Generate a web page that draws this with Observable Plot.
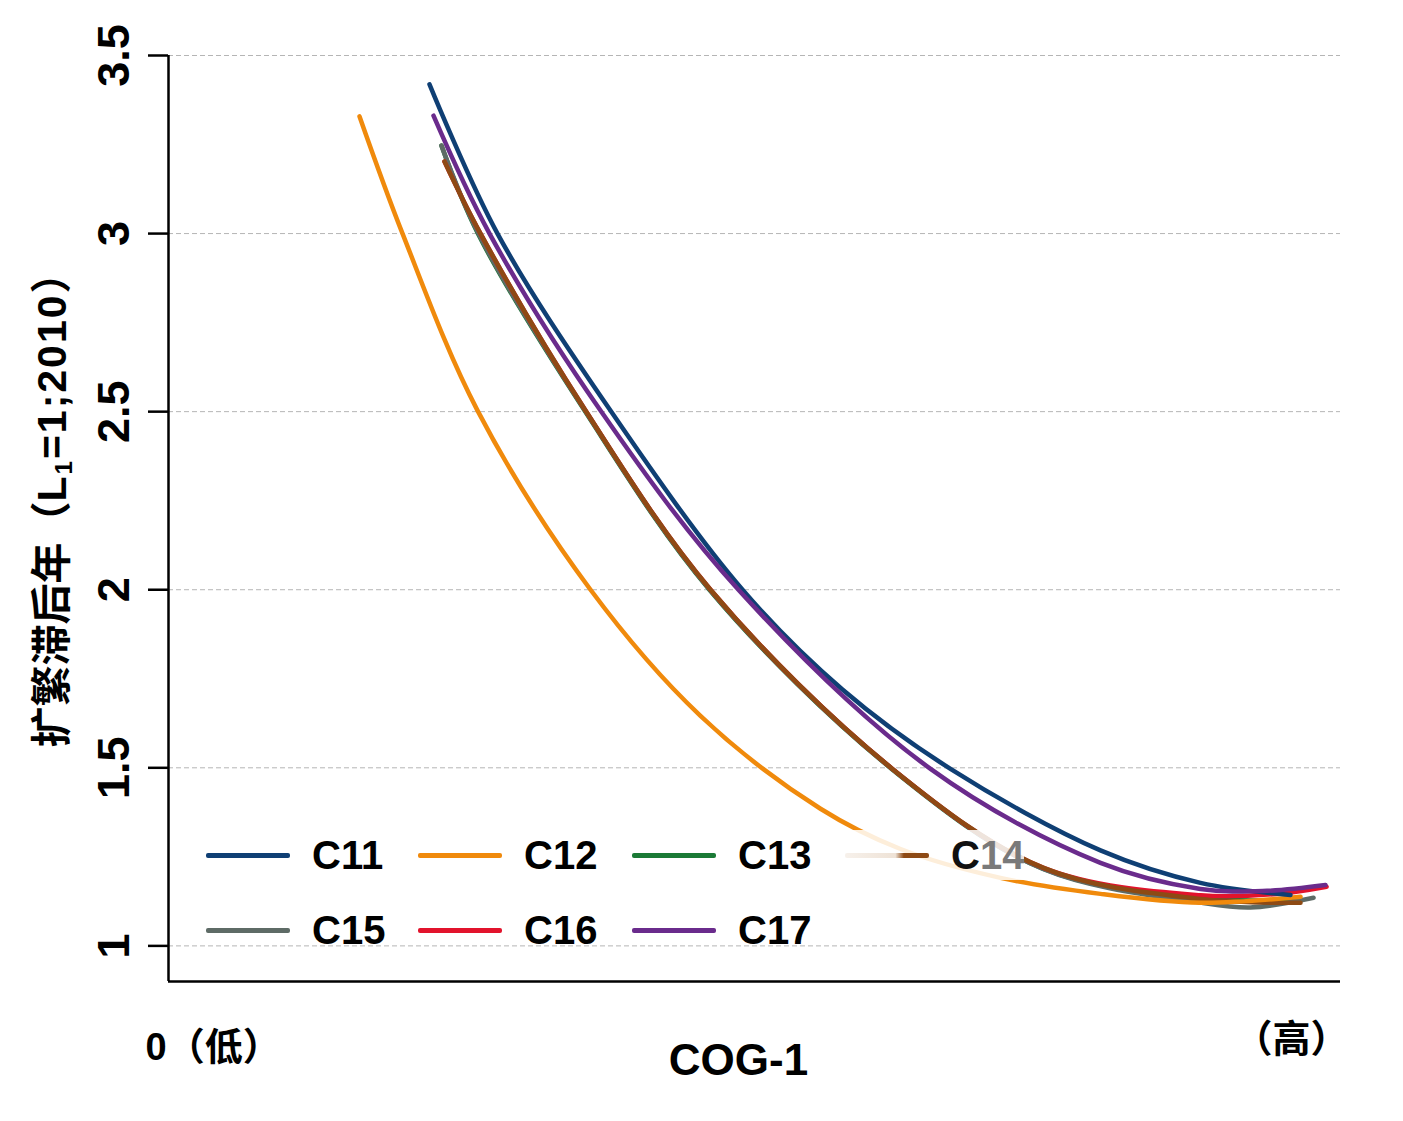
<!DOCTYPE html>
<html>
<head>
<meta charset="utf-8">
<script src="https://cdn.jsdelivr.net/npm/d3@7"></script>
<script src="https://cdn.jsdelivr.net/npm/@observablehq/plot@0.6"></script>
<style>
  body { margin: 0; background: #fff; }
  #wrap { position: relative; width: 1403px; height: 1121px; font-family: "Liberation Sans", Arial, "Noto Sans CJK SC", sans-serif; }
  #ylab { position: absolute; left: 48px; top: 500px; transform: translate(-50%, -50%) rotate(-90deg); white-space: nowrap; font-size: 41px; font-weight: bold; font-family: "Liberation Sans", Arial, "Noto Sans CJK SC", sans-serif; color: #000; }
  #ylab .lat { letter-spacing: 2px; }
  #ylab sub { font-size: 24px; vertical-align: -6px; }
  .leg { position: absolute; height: 50px; display: flex; align-items: center; font-size: 40px; font-weight: bold; color: #000; }
  .leg .sw { width: 84px; height: 5px; border-radius: 2px; margin-right: 22px; }
</style>
</head>
<body>
<div id="wrap">
  <div id="chart"></div>
  <div id="ylab">扩繁滞后年（<span class="lat">L<sub>1</sub>=1;2010</span>）</div>
</div>
<script>
// ---- data ----
const seriesNames = ["C11", "C12", "C13", "C14", "C15", "C16", "C17"];
const seriesColors = ["#0f3f74", "#f08a0c", "#1b7a36", "#8e4a14", "#5e6b66", "#e2132c", "#6a2b8c"];
const yTicks = [1, 1.5, 2, 2.5, 3, 3.5];
const xEndLabels = ["0（低）", "（高）"];
const xTitle = "COG-1";

const c11X = [22.27, 28.07, 37.71, 48.98, 57.50, 66.72, 79.52, 88.05, 95.73];
const c11Y = [3.419, 3.000, 2.503, 2.000, 1.720, 1.497, 1.268, 1.177, 1.143];

const c12X = [16.30, 19.97, 26.37, 36.01, 45.39, 55.63, 62.46, 70.99, 79.52, 88.05, 96.59];
const c12Y = [3.329, 3.000, 2.503, 2.000, 1.646, 1.385, 1.272, 1.191, 1.146, 1.121, 1.138];

const c13X = [23.29, 26.40, 35.50, 46.15, 61.70, 74.60, 88.05, 96.59];
const c13Y = [3.247, 3.000, 2.503, 2.000, 1.497, 1.217, 1.133, 1.130];

const c14X = [23.55, 26.62, 35.58, 46.25, 61.77, 74.66, 88.05, 96.59];
const c14Y = [3.202, 3.000, 2.503, 2.000, 1.497, 1.219, 1.132, 1.121];

const c15X = [23.29, 26.45, 35.55, 46.20, 61.75, 74.62, 88.05, 92.32, 97.70];
const c15Y = [3.247, 3.000, 2.503, 2.000, 1.497, 1.216, 1.122, 1.108, 1.135];

const c16X = [23.55, 26.62, 35.58, 46.25, 61.77, 74.66, 88.05, 94.62, 98.81];
const c16Y = [3.202, 3.000, 2.503, 2.000, 1.497, 1.219, 1.142, 1.146, 1.166];

const c17X = [22.61, 27.39, 36.86, 48.63, 65.02, 79.52, 88.05, 93.34, 98.72];
const c17Y = [3.331, 3.000, 2.503, 2.000, 1.497, 1.233, 1.160, 1.154, 1.171];

// drawing order (first drawn = bottom)
const drawOrder = [
  ["C13", c13X, c13Y],
  ["C15", c15X, c15Y],
  ["C16", c16X, c16Y],
  ["C14", c14X, c14Y],
  ["C12", c12X, c12Y],
  ["C11", c11X, c11Y],
  ["C17", c17X, c17Y]
];

const rows = drawOrder.flatMap(([name, xs, ys]) => xs.map((x, i) => ({series: name, x, y: ys[i]})));

const font = '"Liberation Sans", Arial, "Noto Sans CJK SC", sans-serif';

const chart = Plot.plot({
  width: 1403,
  height: 1121,
  marginLeft: 168,
  marginRight: 63,
  marginTop: 55,
  marginBottom: 140,
  style: {fontFamily: font, background: "#fff", color: "#000"},
  x: {domain: [0, 100], axis: null},
  y: {domain: [0.9, 3.5], axis: null},
  color: {domain: seriesNames, range: seriesColors},
  marks: [
    Plot.gridY(yTicks, {stroke: "#b5b5b5", strokeOpacity: 1, strokeWidth: 1, strokeDasharray: "5,3"}),
    Plot.axisY(yTicks, {
      tickSize: 20, tickPadding: 20, tickRotate: -90, strokeWidth: 2.5,
      fontSize: 45, fontWeight: "bold", fill: "#000",
      tickFormat: d => String(d), label: null
    }),
    Plot.ruleX([0], {strokeWidth: 2.5, stroke: "#000"}),
    Plot.ruleY([0.9], {strokeWidth: 2.5, stroke: "#000"}),
    Plot.line(rows, {x: "x", y: "y", z: "series", stroke: "series", strokeWidth: 4.5, curve: "catmull-rom"}),
    Plot.text([xEndLabels[0]], {x: [0], text: d => d, frameAnchor: "bottom", dy: 78, dx: -23, textAnchor: "start", fontSize: 38, fontWeight: "bold", fill: "#000"}),
    Plot.text([xEndLabels[1]], {x: [100], text: d => d, frameAnchor: "bottom", dy: 70, dx: 8, textAnchor: "end", fontSize: 38, fontWeight: "bold", fill: "#000"}),
    Plot.text([xTitle], {text: d => d, frameAnchor: "bottom", dy: 93, dx: -16, fontSize: 44, fontWeight: "bold", fill: "#000"})
  ]
});
document.getElementById("chart").appendChild(chart);

// legend (two rows, four columns)
const legLeft = [206, 418, 632, 845];
const legTop = [855, 930];
const wrap = document.getElementById("wrap");
seriesNames.forEach((name, i) => {
  const row = Math.floor(i / 4), col = i % 4;
  const item = document.createElement("div");
  item.className = "leg";
  item.style.left = legLeft[col] + "px";
  item.style.top = (legTop[row] - 25) + "px";
  const sw = document.createElement("div");
  sw.className = "sw";
  sw.style.background = seriesColors[i];
  const tx = document.createElement("span");
  tx.textContent = name;
  if (name === "C14") {
    item.style.background = "rgba(255,255,255,0.85)";
    sw.style.background = "linear-gradient(to right, rgba(200,160,120,0.15), rgba(200,160,120,0.3) 60%, #8e4a14 70%, #8e4a14)";
    tx.innerHTML = '<span style="color:#111">C</span><span style="color:#7a7a7a">14</span>';
  }
  item.appendChild(sw);
  item.appendChild(tx);
  wrap.appendChild(item);
});
</script>
</body>
</html>
